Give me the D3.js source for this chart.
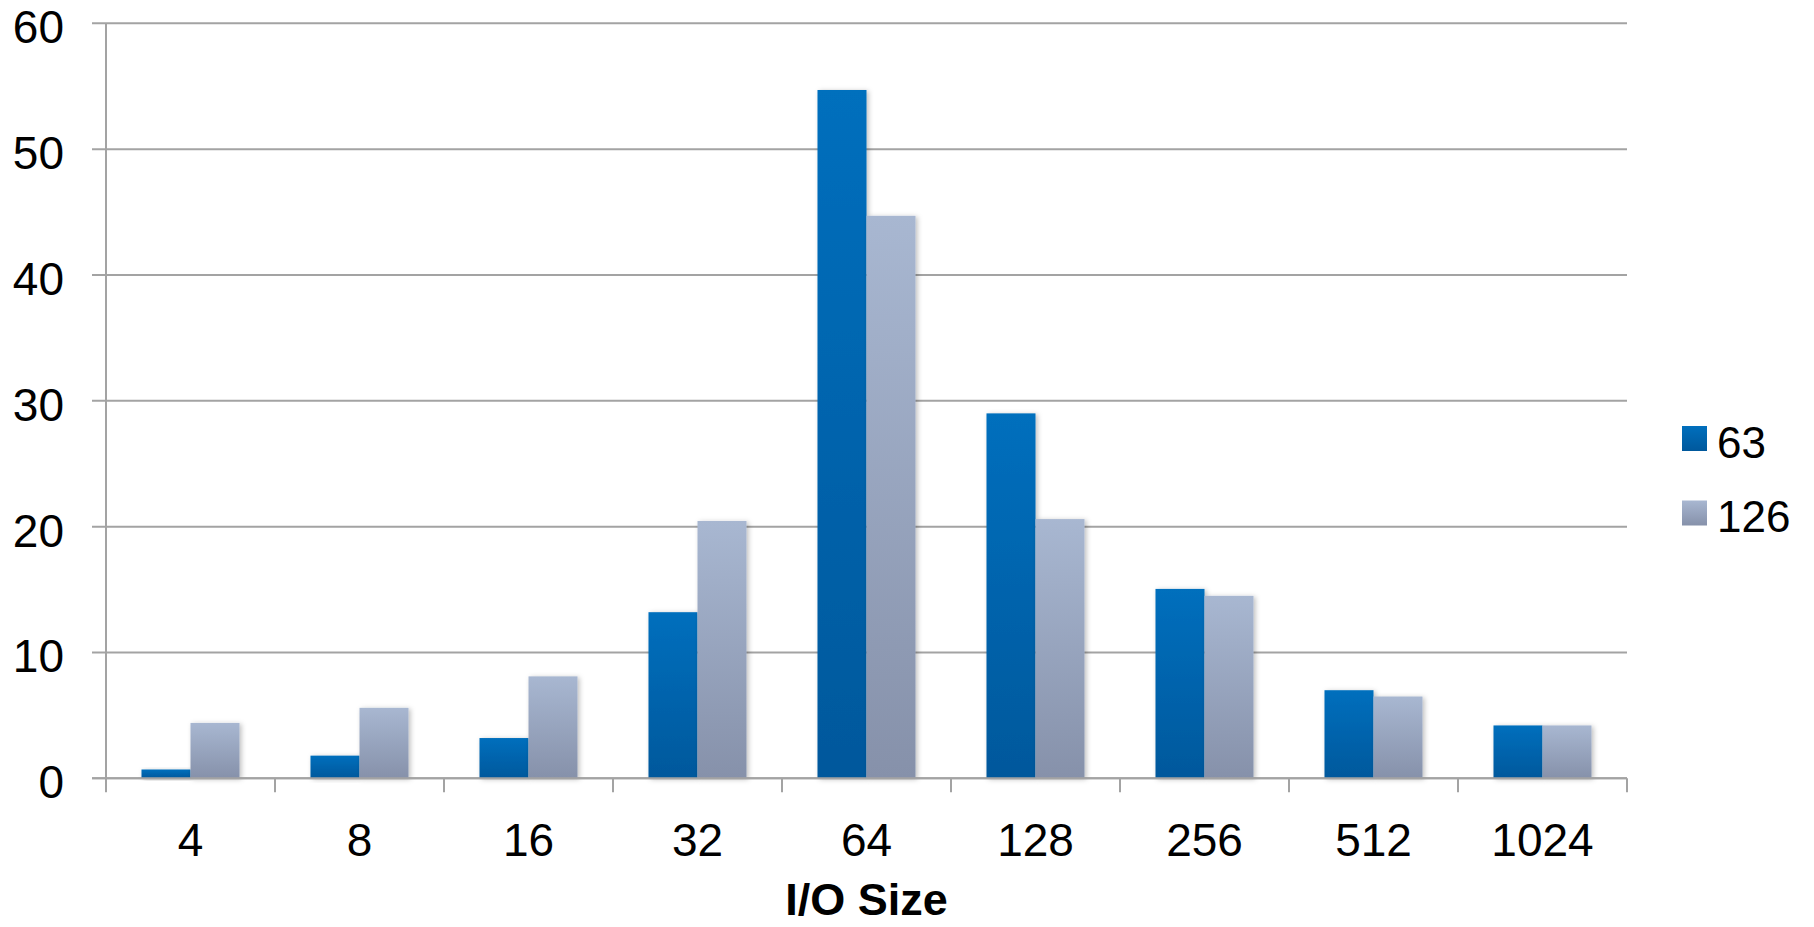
<!DOCTYPE html>
<html>
<head>
<meta charset="utf-8">
<script src="https://cdn.jsdelivr.net/npm/d3@7"></script>
<style>
  html, body { margin: 0; padding: 0; background: #fff; }
  svg { display: block; font-family: "Liberation Sans", Arial, sans-serif; }
</style>
</head>
<body>
<svg id="chart" width="1814" height="927"></svg>
<script>
const categories = ["4", "8", "16", "32", "64", "128", "256", "512", "1024"];
const seriesNames = ["63", "126"];
const values63 = [0.7, 1.8, 3.2, 13.2, 54.7, 29.0, 15.05, 7.0, 4.2];
const values126 = [4.4, 5.6, 8.1, 20.45, 44.7, 20.6, 14.5, 6.5, 4.2];
const yTicks = [0, 10, 20, 30, 40, 50, 60];
const xTitle = "I/O Size";

const svg = d3.select("#chart");
const margin = { left: 106, right: 1627, top: 23.3, bottom: 778.3 };

const x0 = d3.scaleBand().domain(categories)
  .range([margin.left, margin.right])
  .paddingInner(0.42).paddingOuter(0.21);
const x1 = d3.scaleBand().domain(seriesNames).range([0, x0.bandwidth()]);
const y = d3.scaleLinear().domain([0, 60]).range([margin.bottom, margin.top]);

const defs = svg.append("defs");
const grads = [
  { id: "g63", top: "#006fbd", bottom: "#00589c" },
  { id: "g126", top: "#a8b7d1", bottom: "#8691aa" }
];
grads.forEach(g => {
  const lg = defs.append("linearGradient").attr("id", g.id)
    .attr("x1", 0).attr("y1", 0).attr("x2", 0).attr("y2", 1);
  lg.append("stop").attr("offset", "0%").attr("stop-color", g.top);
  lg.append("stop").attr("offset", "100%").attr("stop-color", g.bottom);
});
const filt = defs.append("filter").attr("id", "shadow")
  .attr("x", "-20%").attr("y", "-20%").attr("width", "150%").attr("height", "140%");
filt.append("feDropShadow").attr("dx", 2).attr("dy", 1).attr("stdDeviation", 2.5)
  .attr("flood-color", "#000").attr("flood-opacity", 0.25);

const lineColor = "#a3a3a3";
const fontSize = 46;

// gridlines
svg.append("g").selectAll("line").data(yTicks).join("line")
  .attr("x1", margin.left - 14).attr("x2", margin.right)
  .attr("y1", d => y(d)).attr("y2", d => y(d))
  .attr("stroke", lineColor).attr("stroke-width", 2);

// y labels
svg.append("g").selectAll("text").data(yTicks).join("text")
  .attr("x", 64).attr("y", d => y(d) + 20)
  .attr("text-anchor", "end").attr("font-size", fontSize).attr("fill", "#000")
  .text(d => d);

// bars
const groups = svg.append("g").selectAll("g").data(categories).join("g")
  .attr("transform", d => `translate(${x0(d)},0)`);
groups.selectAll("rect")
  .data((d, i) => [{ s: "63", v: values63[i] }, { s: "126", v: values126[i] }])
  .join("rect")
  .attr("x", d => x1(d.s))
  .attr("width", x1.bandwidth())
  .attr("y", d => y(d.v))
  .attr("height", d => y(0) - y(d.v))
  .attr("fill", d => d.s === "63" ? "url(#g63)" : "url(#g126)")
  .attr("filter", "url(#shadow)");

// axes lines
svg.append("line")
  .attr("x1", margin.left).attr("x2", margin.left)
  .attr("y1", margin.top).attr("y2", margin.bottom + 14)
  .attr("stroke", lineColor).attr("stroke-width", 2);
svg.append("line")
  .attr("x1", margin.left - 14).attr("x2", margin.right)
  .attr("y1", margin.bottom).attr("y2", margin.bottom)
  .attr("stroke", lineColor).attr("stroke-width", 2);

// x ticks at band boundaries
const step = x0.step();
const boundaries = categories.map((c, i) => margin.left + step * (i + 1));
svg.append("g").selectAll("line").data(boundaries).join("line")
  .attr("x1", d => d).attr("x2", d => d)
  .attr("y1", margin.bottom).attr("y2", margin.bottom + 14)
  .attr("stroke", lineColor).attr("stroke-width", 2);

// x labels
svg.append("g").selectAll("text").data(categories).join("text")
  .attr("x", d => x0(d) + x0.bandwidth() / 2).attr("y", 856)
  .attr("text-anchor", "middle").attr("font-size", fontSize).attr("fill", "#000")
  .text(d => d);

// x title
svg.append("text")
  .attr("x", (margin.left + margin.right) / 2).attr("y", 915)
  .attr("text-anchor", "middle").attr("font-size", 45).attr("font-weight", "bold")
  .attr("fill", "#000").text(xTitle);

// legend
const legend = svg.append("g").selectAll("g").data(seriesNames).join("g")
  .attr("transform", (d, i) => `translate(1682, ${426 + i * 74.5})`);
legend.append("rect").attr("width", 25).attr("height", 25)
  .attr("fill", d => d === "63" ? "url(#g63)" : "url(#g126)");
legend.append("text").attr("x", 35).attr("y", 31.5)
  .attr("font-size", 44).attr("fill", "#000").text(d => d);
</script>
</body>
</html>
